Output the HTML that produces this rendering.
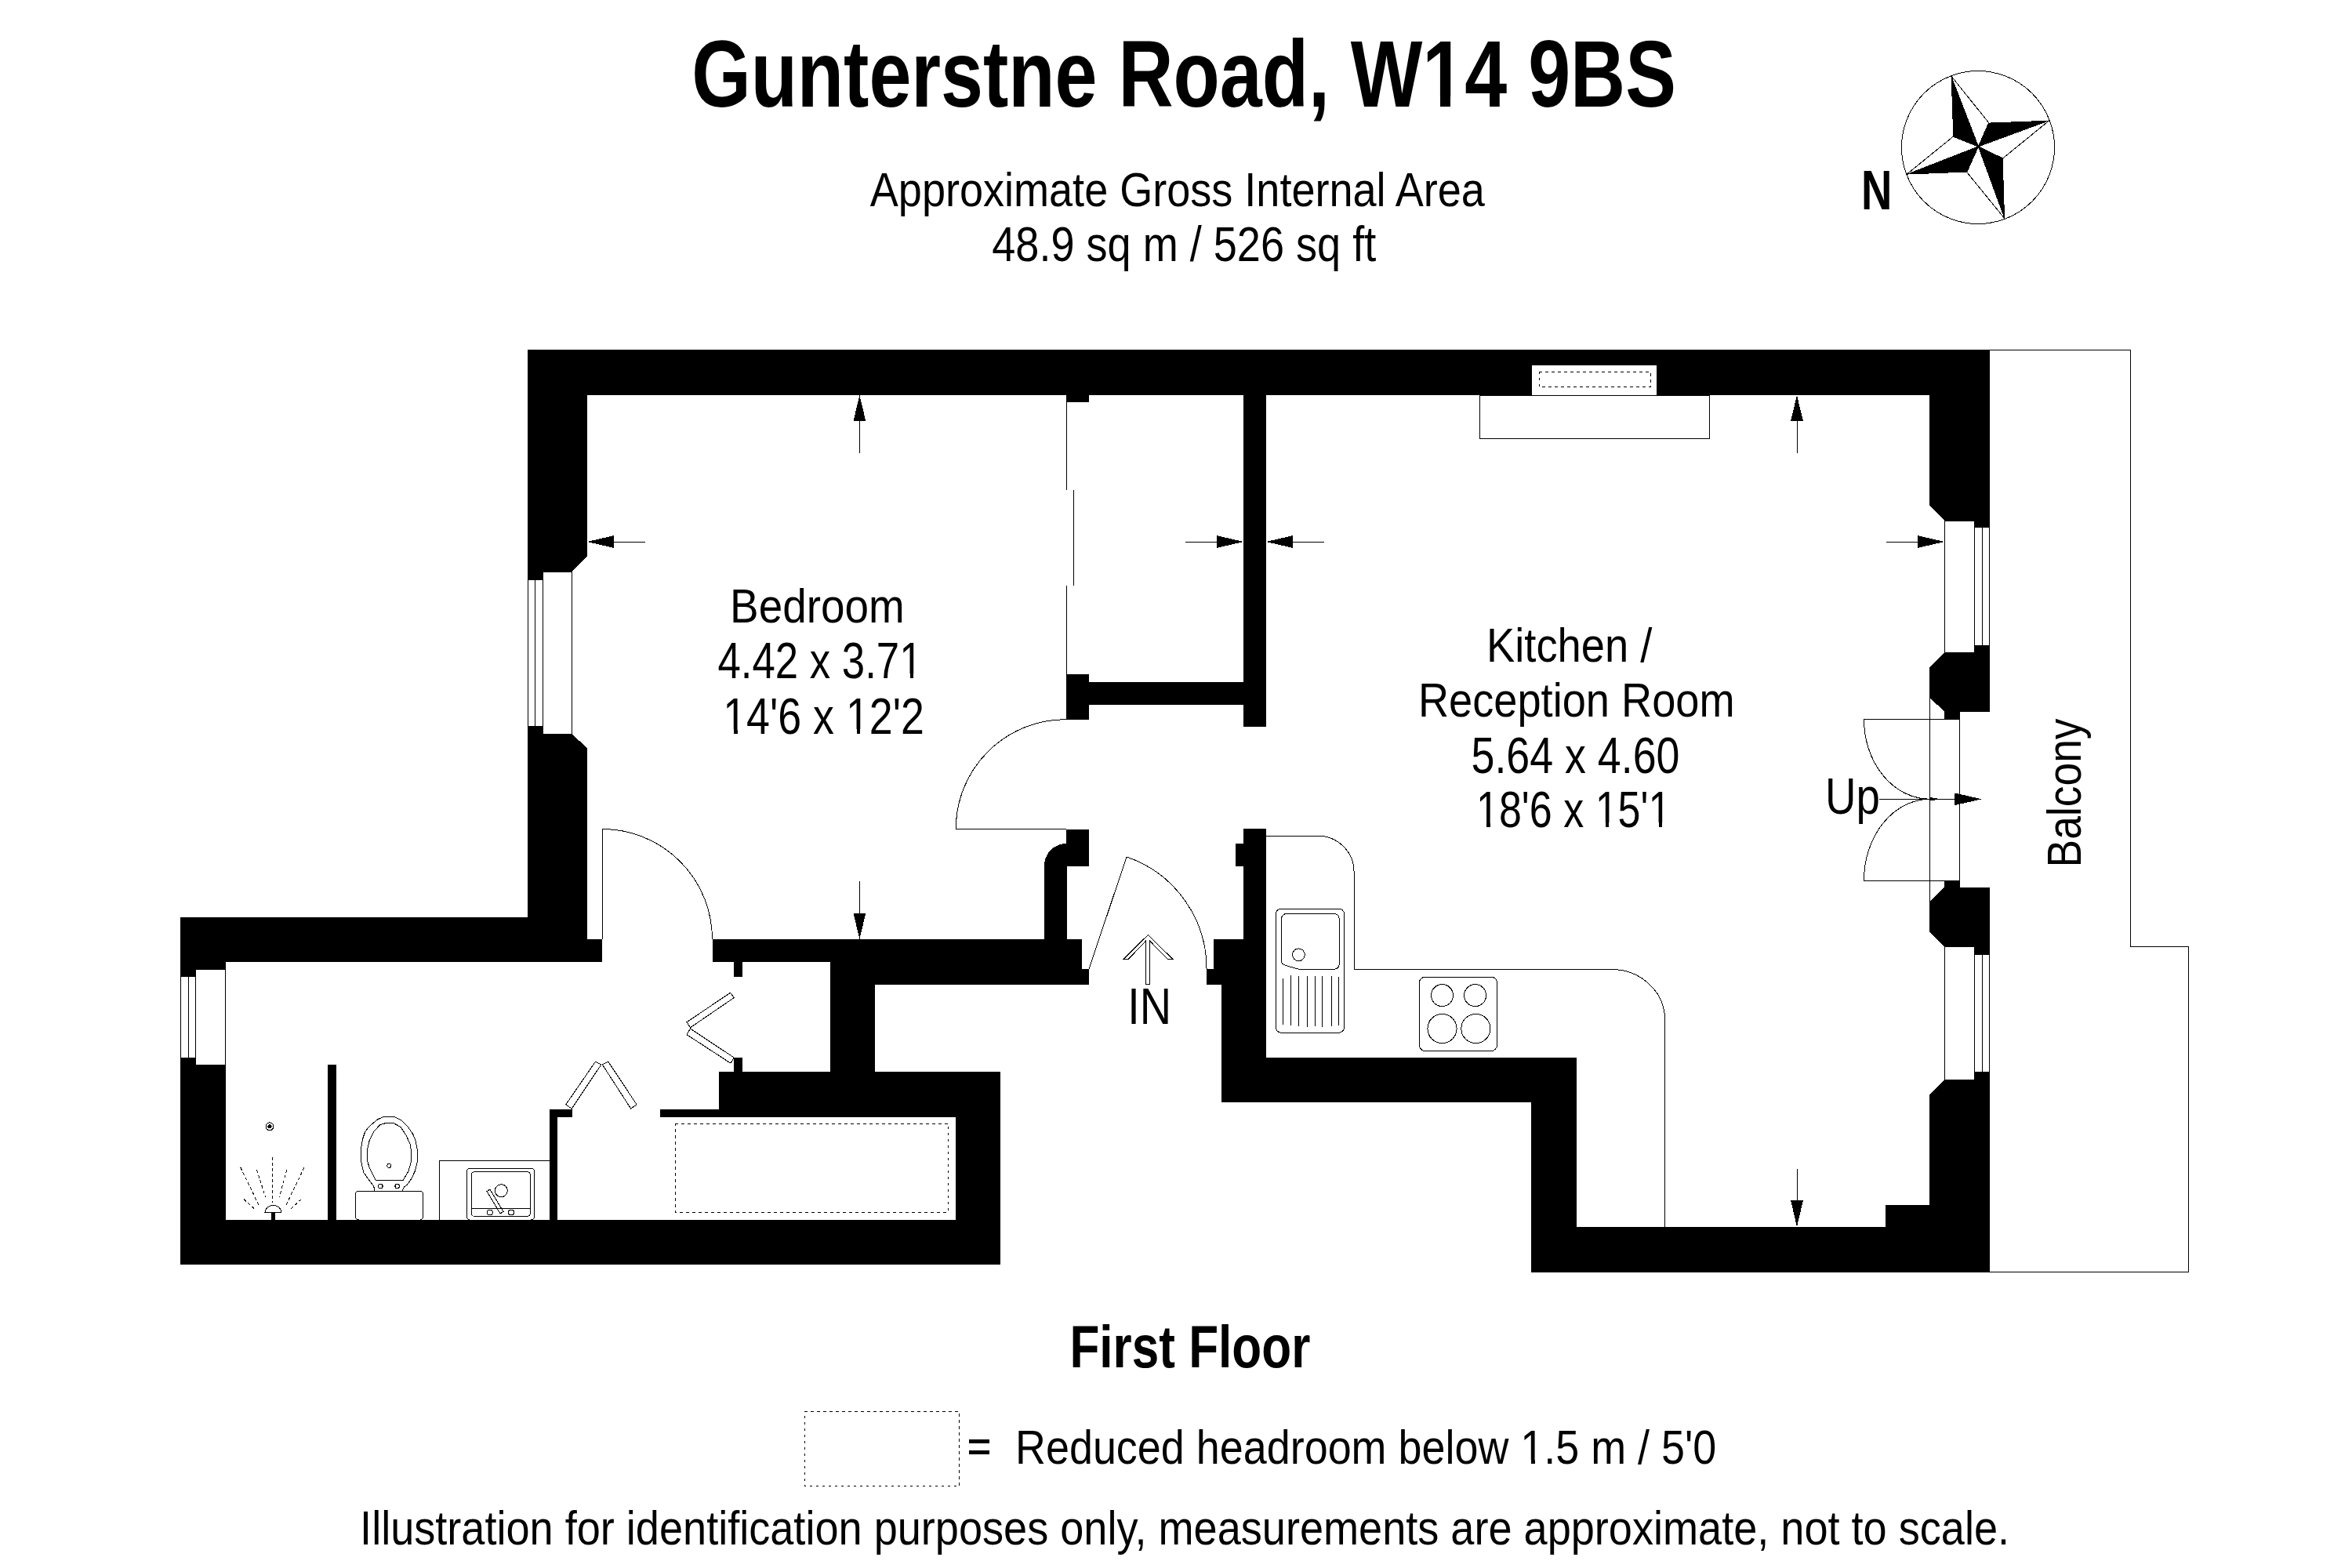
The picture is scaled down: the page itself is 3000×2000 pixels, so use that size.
<!DOCTYPE html><html><head><meta charset="utf-8"><title>Gunterstne Road, W14 9BS - First Floor</title>
<style>html,body{margin:0;padding:0;background:#fff;overflow:hidden}svg{display:block}text{font-family:"Liberation Sans",sans-serif;fill:#000}</style></head><body>
<svg width="3000" height="2000" viewBox="0 0 3000 2000">
<rect x="0" y="0" width="3000" height="2000" fill="#fff"/>
<g shape-rendering="crispEdges">
<g shape-rendering="crispEdges"><rect x="673" y="446" width="1865" height="58" fill="#000"/><polygon points="673,446 749,446 749,710 729,729 692,729 692,739 673,739" fill="#000"/><polygon points="673,926 692,926 692,936 729,936 749,954 749,1198 768,1198 768,1227 673,1227" fill="#000"/><rect x="230" y="1170" width="519" height="57" fill="#000"/><rect x="230" y="1170" width="58" height="66.6" fill="#000"/><rect x="230" y="1170" width="19.4" height="75.5" fill="#000"/><rect x="230" y="1349.6" width="19.4" height="8.4" fill="#000"/><rect x="230" y="1358" width="58" height="254.5" fill="#000"/><rect x="230" y="1555.7" width="1046" height="56.8" fill="#000"/><rect x="917" y="1367" width="359" height="57.7" fill="#000"/><rect x="1219" y="1367" width="57" height="245.5" fill="#000"/><rect x="842" y="1415" width="75" height="9.7" fill="#000"/><rect x="701" y="1415" width="10" height="141" fill="#000"/><rect x="701" y="1415" width="29" height="9.7" fill="#000"/><rect x="418" y="1358" width="11" height="198" fill="#000"/><rect x="908.5" y="1198" width="471.5" height="29" fill="#000"/><rect x="1059" y="1198" width="321" height="58" fill="#000"/><rect x="1380" y="1236" width="9" height="20" fill="#000"/><rect x="1059" y="1198" width="57" height="169" fill="#000"/><rect x="936" y="1227" width="11" height="19" fill="#000"/><rect x="936" y="1349" width="11" height="18" fill="#000"/><path d="M1332,1198 L1332,1104 A28,28 0 0 1 1360,1076 L1360,1057.5 L1389,1057.5 L1389,1104.8 L1361,1104.8 L1361,1198 Z" fill="#000"/><rect x="1360" y="860" width="29" height="57.7" fill="#000"/><rect x="1389" y="870" width="197" height="29" fill="#000"/><rect x="1586" y="504" width="29" height="423" fill="#000"/><rect x="1360" y="504" width="29" height="9" fill="#000"/><rect x="1586" y="1057" width="29" height="349" fill="#000"/><rect x="1576" y="1076" width="10" height="29" fill="#000"/><rect x="1548" y="1198" width="38" height="38" fill="#000"/><rect x="1539" y="1236" width="47" height="20" fill="#000"/><rect x="1558" y="1256" width="57" height="150" fill="#000"/><rect x="1558" y="1349" width="453" height="57" fill="#000"/><rect x="1953" y="1349" width="58" height="273.5" fill="#000"/><rect x="1953" y="1565" width="585" height="57.5" fill="#000"/><rect x="2405" y="1537" width="56" height="28" fill="#000"/><polygon points="2461,446 2538,446 2538,672.6 2518,672.6 2518,664 2480,664 2461,645" fill="#000"/><polygon points="2480,832 2518,832 2518,823 2538,823 2538,907.5 2500,907.5 2500,917.5 2480,917.5 2480,907.5 2461,889.6 2461,851" fill="#000"/><polygon points="2480,1123 2500,1123 2500,1132 2538,1132 2538,1217.7 2518,1217.7 2518,1207.5 2480,1207.5 2461,1189 2461,1150 2480,1132" fill="#000"/><polygon points="2518,1367 2538,1367 2538,1622.5 2461,1622.5 2461,1396 2480,1377 2518,1377" fill="#000"/><rect x="1954" y="466" width="159" height="38" fill="#fff"/></g>
<g fill="none" stroke="#000" stroke-width="1"><rect x="692" y="729" width="37" height="207"/><rect x="673.5" y="739" width="18.5" height="187"/><line x1="682.5" y1="739" x2="682.5" y2="926"/><rect x="249.4" y="1236.6" width="38.3" height="121.4"/><rect x="230.5" y="1245.5" width="18.9" height="104.1"/><line x1="240.5" y1="1245.5" x2="240.5" y2="1349.6"/><rect x="2480" y="664" width="38" height="168"/><rect x="2518" y="672.6" width="19.5" height="150.4"/><line x1="2528" y1="672.6" x2="2528" y2="823"/><rect x="2480" y="1207.5" width="38" height="169.5"/><rect x="2518" y="1217.7" width="19.5" height="149.3"/><line x1="2528" y1="1217.7" x2="2528" y2="1367"/><path d="M2538,446 L2717,446 L2717,1207.5 L2791,1207.5 L2791,1622 L2538,1622"/><rect x="1887.5" y="504" width="292.5" height="55"/><line x1="1360.9" y1="513" x2="1360.9" y2="625"/><line x1="1369.4" y1="625" x2="1369.4" y2="746.5"/><line x1="1360.9" y1="747.4" x2="1360.9" y2="860"/><path d="M1360,917.7 A140,139.3 0 0 0 1219.3,1057.5 L1360,1057.5"/><path d="M908.5,1198 A140.5,140.5 0 0 0 768,1057.5 L768,1198"/><path d="M1389,1236 L1437,1093 A150.5,150.5 0 0 1 1539,1236"/><path d="M2461.7,1019.3 A84.2,101.8 0 0 1 2377.5,917.5 L2499.6,917.5 L2499.6,1123 L2377.5,1123 A84.2,103.7 0 0 1 2461.7,1019.3"/><line x1="2461.7" y1="889.6" x2="2461.7" y2="1149.8"/><line x1="2397" y1="1019.3" x2="2493" y2="1019.3"/><path d="M1615,1066 L1680,1066 A47,45.4 0 0 1 1727,1111.4 L1727,1236.4 L2055,1236.4 A68.5,64 0 0 1 2123.5,1300.4 L2123.5,1565"/><rect x="1627.3" y="1159" width="87.2" height="158.3" rx="7"/><path d="M1657,1236.4 L1700.4,1236.4 Q1708.4,1236.4 1708.4,1228.4 L1708.4,1173.3 Q1708.4,1165.3 1700.4,1165.3 L1642.4,1165.3 Q1634.4,1165.3 1634.4,1173.3 L1634.4,1226 Q1634.4,1230 1640,1231.5 Z"/><circle cx="1656.4" cy="1217.8" r="7.9"/><line x1="1636.5" y1="1248" x2="1636.5" y2="1307"/><line x1="1646.4" y1="1244" x2="1646.4" y2="1308"/><line x1="1656.6" y1="1245" x2="1656.6" y2="1309"/><line x1="1667.6" y1="1245" x2="1667.6" y2="1310"/><line x1="1677.6" y1="1245" x2="1677.6" y2="1309"/><line x1="1686.5" y1="1245" x2="1686.5" y2="1310"/><line x1="1698.5" y1="1245" x2="1698.5" y2="1309"/><line x1="1707.7" y1="1246" x2="1707.7" y2="1308"/><rect x="1810.2" y="1246" width="99.5" height="94.6" rx="8"/><circle cx="1839.5" cy="1269.6" r="14"/><circle cx="1881.6" cy="1269.6" r="14"/><circle cx="1839.5" cy="1312" r="18.6"/><circle cx="1882.4" cy="1312" r="18.6"/><polygon points="931.6,1266.2 936.2,1272.6 880.4,1310.8 876,1303.7"/><polygon points="876,1319.7 880.4,1312 936.2,1349 932,1356.2"/><polygon points="759.4,1354.2 766.8,1358 729.3,1414 721.7,1409"/><polygon points="768.4,1358 775.8,1354.2 812.2,1409 804.6,1414"/></g>
<g fill="none" stroke="#000" stroke-width="1" stroke-dasharray="3.5,4.5"><rect x="861" y="1433.4" width="348.7" height="112.6"/><rect x="1963" y="474" width="142" height="19.5"/><rect x="1026.4" y="1800.4" width="197.3" height="95.0"/></g>
<g fill="#000"><polygon points="1096.4,504 1088.5,537 1104.3000000000002,537"/><polygon points="1096.4,1198 1088.5,1164.6 1104.3000000000002,1164.6"/><polygon points="749,691 783,683.1 783,698.9"/><polygon points="1586,691 1552,683.1 1552,698.9"/><polygon points="1615,691 1649,683.1 1649,698.9"/><polygon points="2480,691 2446,683.1 2446,698.9"/><polygon points="2292,504 2284.1,537 2299.9,537"/><polygon points="2292,1565 2284.1,1531 2299.9,1531"/><polygon points="2527.7,1019.3 2493,1011.4 2493,1027.2"/><polygon points="2476,1019.3 2461.7,1017 2461.7,1021.6"/></g>
<g fill="none" stroke="#000" stroke-width="1"><line x1="1096.4" y1="537" x2="1096.4" y2="578"/><line x1="1096.4" y1="1164.6" x2="1096.4" y2="1124"/><line x1="783" y1="691" x2="823" y2="691"/><line x1="1552" y1="691" x2="1512" y2="691"/><line x1="1649" y1="691" x2="1689" y2="691"/><line x1="2446" y1="691" x2="2406" y2="691"/><line x1="2292" y1="537" x2="2292" y2="578"/><line x1="2292" y1="1531" x2="2292" y2="1491"/><line x1="2493" y1="1019.3" x2="2493" y2="1019.3"/><polygon points="1464.3,1192.5 1495.8,1223.3 1489.1,1223.3 1466.7,1200.3 1466.7,1255.2 1461.4,1255.2 1461.4,1200.3 1439.4,1223.3 1433,1223.3"/></g>
<g fill="none" stroke="#000" stroke-width="1"><rect x="453.5" y="1519.4" width="86" height="36.6" rx="4"/><polyline points="477.9,1518.9 476.8,1513.4 473.5,1508.9 469.1,1502.9 463.6,1495.1 460.8,1481.9 460.2,1467.5 462.5,1453.1 465.8,1443.2 471.3,1436.5 481.2,1428.2 489.5,1424.1 502.2,1424.1 512.2,1429.3 520.5,1437.6 526.6,1446.5 529.9,1454.2 532.6,1467.5 532.6,1480.7 529.3,1494.0 524.4,1504.0 519.4,1511.1 515.5,1513.9 513.3,1518.9"/><polygon points="479.3,1505.3 471.3,1489.6 468.5,1480.7 468.2,1467.5 471.3,1454.2 476.8,1443.2 484.6,1434.9 492.3,1432.4 501.7,1432.4 511.1,1437.6 518.3,1448.7 523.3,1459.7 524.7,1469.7 524.7,1480.7 521.0,1494.0 514.2,1505.3"/><circle cx="485.3" cy="1513" r="2.8"/><circle cx="506.7" cy="1513" r="2.8"/><circle cx="496.2" cy="1486.9" r="2.4"/><path d="M560.3,1556 L560.3,1480.5 L701,1480.5"/><rect x="595.3" y="1490" width="86.1" height="66" rx="4"/><rect x="601" y="1494.8" width="75.6" height="56.5" rx="4"/><line x1="601" y1="1541" x2="676.6" y2="1541"/><circle cx="624.7" cy="1546.5" r="3.5"/><circle cx="652" cy="1546.5" r="3.5"/><circle cx="639.3" cy="1518.7" r="8"/><polygon points="621,1519.5 625,1517 642,1545.5 638,1548"/><circle cx="344" cy="1436.8" r="5"/></g>
<g fill="#000"><circle cx="344" cy="1436.8" r="2.6"/><rect x="346" y="1546" width="4.5" height="10"/><path d="M338,1546.5 A10.5,9 0 0 1 359,1546.5 Z" fill="#fff" stroke="#000" stroke-width="1"/></g>
<g fill="none" stroke="#000" stroke-width="1" stroke-dasharray="4,3"><line x1="347.6" y1="1476" x2="347.6" y2="1534"/><line x1="306.8" y1="1489" x2="330.7" y2="1538.5"/><line x1="327.5" y1="1492" x2="338.7" y2="1527.3"/><line x1="365.8" y1="1492" x2="356.2" y2="1527.3"/><line x1="388.1" y1="1489" x2="364.2" y2="1538.5"/><line x1="311" y1="1529.6" x2="325" y2="1542.3"/><line x1="384.3" y1="1529.6" x2="370.5" y2="1542.3"/></g>
<circle cx="2523" cy="188" r="97.5" fill="none" stroke="#000" stroke-width="1"/><polygon points="2488.6,96.8 2491.3,174.2 2523.4,186.9" fill="#000"/><polygon points="2614,153.6 2536.7,156.6 2523.4,186.9" fill="#000"/><polygon points="2557.1,279 2554.6,202 2523.4,186.9" fill="#000"/><polygon points="2431.7,222.6 2508.7,219.6 2523.4,186.9" fill="#000"/><polyline points="2488.6,96.8 2536.7,156.6 2523.4,186.9" fill="none" stroke="#000" stroke-width="1"/><line x1="2488.6" y1="96.8" x2="2523.4" y2="186.9" stroke="#000" stroke-width="1"/><polyline points="2614,153.6 2554.6,202 2523.4,186.9" fill="none" stroke="#000" stroke-width="1"/><line x1="2614" y1="153.6" x2="2523.4" y2="186.9" stroke="#000" stroke-width="1"/><polyline points="2557.1,279 2508.7,219.6 2523.4,186.9" fill="none" stroke="#000" stroke-width="1"/><line x1="2557.1" y1="279" x2="2523.4" y2="186.9" stroke="#000" stroke-width="1"/><polyline points="2431.7,222.6 2491.3,174.2 2523.4,186.9" fill="none" stroke="#000" stroke-width="1"/><line x1="2431.7" y1="222.6" x2="2523.4" y2="186.9" stroke="#000" stroke-width="1"/>
<rect x="1235.9" y="1836" width="26.3" height="5.3" fill="#000"/><rect x="1235.9" y="1850" width="26.3" height="5.3" fill="#000"/>
</g>
<g>
<text x="882.20" y="136" font-size="120.00" font-weight="bold" textLength="1255.66" lengthAdjust="spacingAndGlyphs">Gunterstne Road, W14 9BS</text>
<text x="1109.80" y="262.9" font-size="62.00" textLength="784.01" lengthAdjust="spacingAndGlyphs">Approximate Gross Internal Area</text>
<text x="1265.30" y="332.7" font-size="63.00" textLength="489.92" lengthAdjust="spacingAndGlyphs">48.9 sq m / 526 sq ft</text>
<text x="2374.10" y="266.9" font-size="71.22" font-weight="bold" textLength="39.38" lengthAdjust="spacingAndGlyphs">N</text>
<text x="931.10" y="794" font-size="62.00" textLength="222.56" lengthAdjust="spacingAndGlyphs">Bedroom</text>
<text x="915.50" y="865" font-size="64.00" textLength="260.98" lengthAdjust="spacingAndGlyphs">4.42 x 3.71</text>
<text x="922.20" y="936" font-size="64.00" textLength="256.70" lengthAdjust="spacingAndGlyphs">14'6 x 12'2</text>
<text x="1896.10" y="843.7" font-size="62.00" textLength="211.22" lengthAdjust="spacingAndGlyphs">Kitchen /</text>
<text x="1808.90" y="913.9" font-size="62.00" textLength="403.74" lengthAdjust="spacingAndGlyphs">Reception Room</text>
<text x="1876.50" y="985.7" font-size="64.00" textLength="265.98" lengthAdjust="spacingAndGlyphs">5.64 x 4.60</text>
<text x="1883.00" y="1055" font-size="64.00" textLength="248.39" lengthAdjust="spacingAndGlyphs">18'6 x 15'1</text>
<text x="2328.00" y="1038.4" font-size="64.00" textLength="69.88" lengthAdjust="spacingAndGlyphs">Up</text>
<text x="1438.20" y="1306" font-size="64.00" textLength="55.88" lengthAdjust="spacingAndGlyphs">IN</text>
<text x="1364.40" y="1744" font-size="76.50" font-weight="bold" textLength="306.99" lengthAdjust="spacingAndGlyphs">First Floor</text>
<text x="1295.00" y="1867.2" font-size="62.00" textLength="894.34" lengthAdjust="spacingAndGlyphs">Reduced headroom below 1.5 m / 5'0</text>
<text x="459.10" y="1970" font-size="62.00" textLength="2103.95" lengthAdjust="spacingAndGlyphs">Illustration for identification purposes only, measurements are approximate, not to scale.</text>
<text transform="translate(2654.1,1101.6) rotate(-90)" x="-4.80" y="0" font-size="62.00" textLength="189.94" lengthAdjust="spacingAndGlyphs">Balcony</text>
</g>
<g fill="#fff" shape-rendering="crispEdges"><rect x="1819" y="123" width="18" height="15"/><rect x="1850" y="123" width="17" height="15"/><rect x="1150" y="859" width="11" height="8"/><rect x="1165" y="859" width="10" height="8"/><rect x="925" y="930" width="11" height="8"/><rect x="941" y="930" width="10" height="8"/><rect x="1082" y="930" width="11" height="8"/><rect x="1097" y="930" width="10" height="8"/><rect x="1886" y="1049" width="10" height="8"/><rect x="1901" y="1049" width="9" height="8"/><rect x="2038" y="1049" width="10" height="8"/><rect x="2052" y="1049" width="10" height="8"/><rect x="2105" y="1049" width="11" height="8"/><rect x="2120" y="1049" width="10" height="8"/><rect x="1942" y="1862" width="11" height="7"/><rect x="1958" y="1862" width="10" height="7"/></g>
</svg></body></html>
